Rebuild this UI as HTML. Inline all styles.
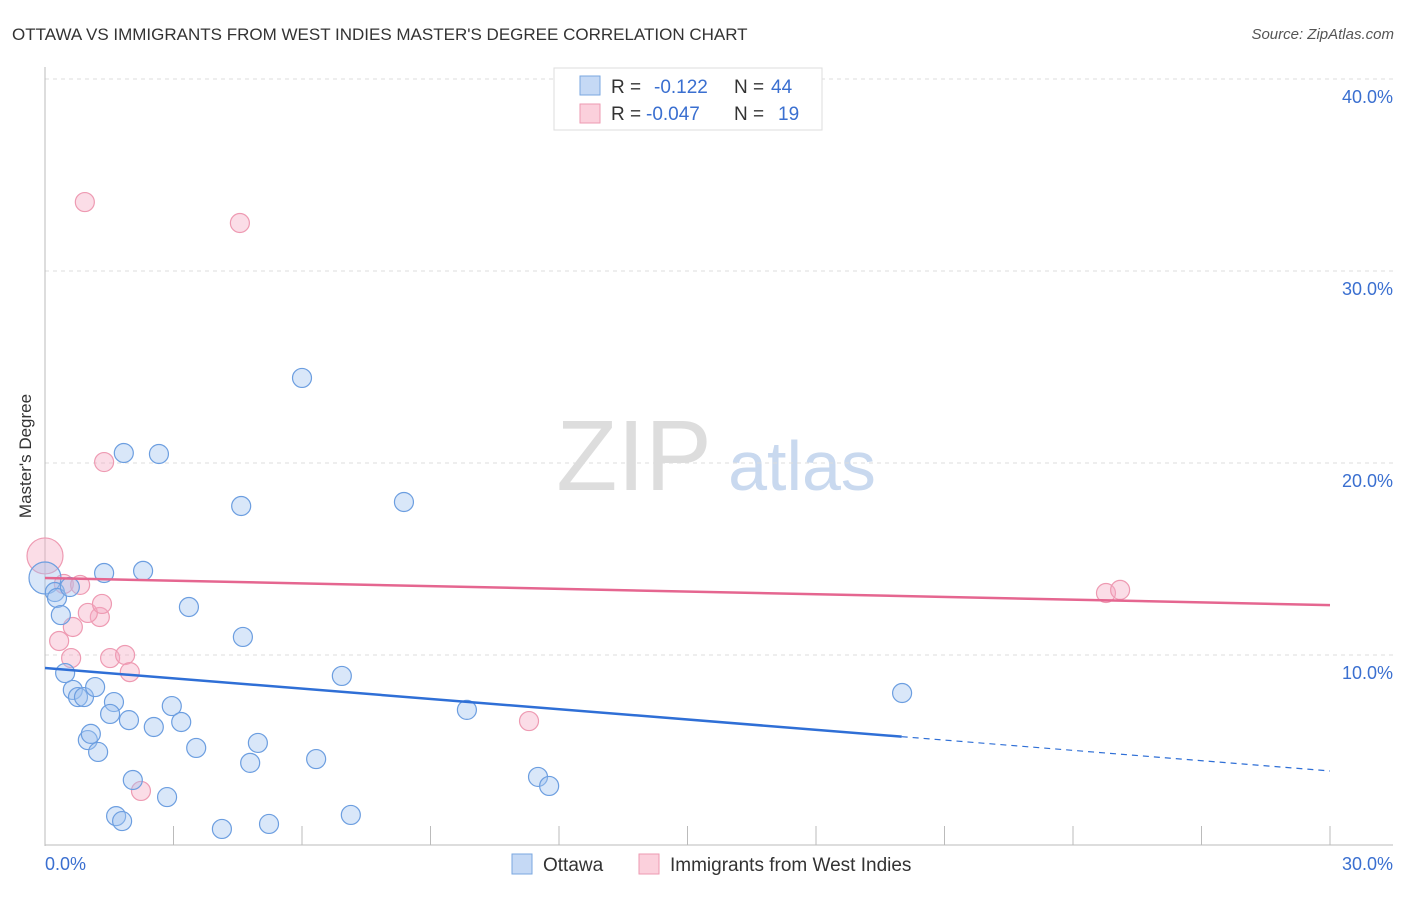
<!DOCTYPE html>
<html><head><meta charset="utf-8"><style>
body{margin:0;background:#fff;font-family:"Liberation Sans",sans-serif}
svg text{font-family:"Liberation Sans",sans-serif}
</style></head><body>
<svg id="c" width="1406" height="892">
<text x="12" y="40" font-size="17" fill="#333">OTTAWA VS IMMIGRANTS FROM WEST INDIES MASTER'S DEGREE CORRELATION CHART</text>
<text x="1394" y="39" font-size="15" fill="#555" font-style="italic" text-anchor="end">Source: ZipAtlas.com</text>
<text x="31" y="456" font-size="17" fill="#333" text-anchor="middle" transform="rotate(-90 31 456)">Master's Degree</text>
<g><text x="634" y="490" font-size="100" fill="#ddd" font-family="Liberation Serif" text-anchor="middle">ZIP</text><text x="802" y="490" font-size="70" fill="#c9d9ef" text-anchor="middle">atlas</text></g>
<g id="grid"></g><g id="marks"></g>
<g>
<rect x="554" y="68" width="268" height="62" fill="#fff" stroke="#ddd"/>
<rect x="580" y="76" width="20" height="19" fill="#c5d9f5" stroke="#7aa7e0"/>
<rect x="580" y="104" width="20" height="19" fill="#fbd0dc" stroke="#ee9ab2"/>
<text x="611" y="93" font-size="19" fill="#333">R =</text><text x="654" y="93" font-size="19" fill="#3a6fd0">-0.122</text>
<text x="734" y="93" font-size="19" fill="#333">N =</text><text x="771" y="93" font-size="19" fill="#3a6fd0">44</text>
<text x="611" y="120" font-size="19" fill="#333">R =</text><text x="646" y="120" font-size="19" fill="#3a6fd0">-0.047</text>
<text x="734" y="120" font-size="19" fill="#333">N =</text><text x="778" y="120" font-size="19" fill="#3a6fd0">19</text>
</g>
<g>
<rect x="512" y="854" width="20" height="20" fill="#c5d9f5" stroke="#7aa7e0"/>
<text x="543" y="871" font-size="19" fill="#333">Ottawa</text>
<rect x="639" y="854" width="20" height="20" fill="#fbd0dc" stroke="#ee9ab2"/>
<text x="670" y="871" font-size="19" fill="#333">Immigrants from West Indies</text>
</g>
</svg>
<script>
const yTicks=[10,20,30,40];
const yTickLabels=["10.0%","20.0%","30.0%","40.0%"];
const xLabels=["0.0%","30.0%"];
const ottX=[0,0.23,0.28,0.58,0.37,1.38,2.29,1.84,2.66,6.00,4.58,8.38,3.36,4.62,6.93,20.01,0.47,0.65,0.77,0.91,1.17,1.61,1.52,1.96,2.96,2.54,3.18,1.00,1.07,1.24,3.53,4.97,4.79,6.33,9.85,2.05,11.51,11.77,2.85,1.66,1.80,4.13,5.23,7.14];
const ottY=[14.01,13.28,12.97,13.54,12.08,14.27,14.38,20.52,20.47,24.43,17.76,17.97,12.5,10.94,8.91,8.02,9.06,8.18,7.81,7.81,8.33,7.55,6.93,6.61,7.34,6.25,6.51,5.57,5.89,4.95,5.16,5.42,4.38,4.58,7.14,3.49,3.65,3.18,2.60,1.61,1.35,0.94,1.20,1.67];
const wiX=[0,0.93,4.55,1.38,0.44,0.82,1.28,1.00,0.65,1.33,0.33,0.61,1.52,1.87,1.98,11.30,2.24,24.77,25.10];
const wiY=[15.16,33.59,32.5,20.05,13.70,13.65,11.98,12.19,11.46,12.66,10.73,9.84,9.84,10.0,9.11,6.56,2.92,13.23,13.39];
const ottTrend=[9.32,3.96];
const wiTrend=[14.01,12.6];
const ottSolidEnd=20;
const X=v=>45+v*1285/30, Y=v=>847-v*19.2;
const NS="http://www.w3.org/2000/svg";
const grid=document.getElementById('grid'), marks=document.getElementById('marks');
function mk(tag,attrs,parent){const e=document.createElementNS(NS,tag);for(const k in attrs)e.setAttribute(k,attrs[k]);parent.appendChild(e);return e;}
yTicks.forEach((t,i)=>{
 const l=mk('line',{x1:45,x2:1393,y1:Y(t),y2:Y(t),stroke:'#ddd','stroke-dasharray':'4,4'},grid);
 
 
 const tx=mk('text',{x:1393,y:Y(t)+24,'font-size':18,fill:'#3a6fd0','text-anchor':'end'},grid);
 tx.textContent=yTickLabels[i];
 
 
});
const ax=mk('line',{x1:45,x2:45,y1:67,y2:846,stroke:'#bbb'},grid);


const bx=mk('line',{x1:45,x2:1393,y1:845,y2:845,stroke:'#bbb'},grid);


for(let i=1;i<=10;i++){const t=mk('line',{x1:X(i*3),x2:X(i*3),y1:826,y2:845,stroke:'#bbb'},grid);
 
 }
[[0,'start',45],[30,'end',1393]].forEach((d,i)=>{const t=mk('text',{x:d[2],y:870,'font-size':18,fill:'#3a6fd0','text-anchor':d[1]},grid);t.textContent=xLabels[i];
 
 });
wiX.forEach((x,i)=>{const c=mk('circle',{cx:X(x),cy:Y(wiY[i]),r:i===0?18:9.5,fill:'rgba(246,170,195,0.4)',stroke:'#ee9ab2','stroke-width':1.2},marks);
 
 });
ottX.forEach((x,i)=>{const c=mk('circle',{cx:X(x),cy:Y(ottY[i]),r:i===0?16:9.5,fill:'rgba(160,196,240,0.4)',stroke:'#6c9ee0','stroke-width':1.2},marks);
 
 });
const oy=x=>ottTrend[0]+(ottTrend[1]-ottTrend[0])*x/30;
const t1=mk('line',{x1:X(0),y1:Y(oy(0)),x2:X(ottSolidEnd),y2:Y(oy(ottSolidEnd)),stroke:'#2f6fd6','stroke-width':2.5},marks);


const t2=mk('line',{x1:X(ottSolidEnd),y1:Y(oy(ottSolidEnd)),x2:X(30),y2:Y(oy(30)),stroke:'#2f6fd6','stroke-width':1.2,'stroke-dasharray':'6,5'},marks);


const t3=mk('line',{x1:X(0),y1:Y(wiTrend[0]),x2:X(30),y2:Y(wiTrend[1]),stroke:'#e56690','stroke-width':2.5},marks);


</script>
</body></html>
